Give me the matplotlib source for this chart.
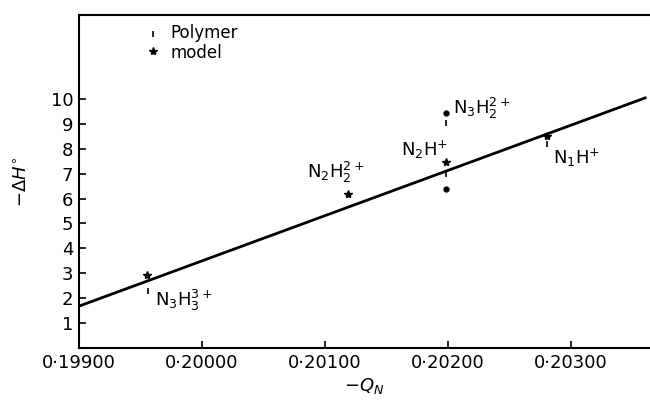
import matplotlib
matplotlib.use("Agg")
import matplotlib.pyplot as plt

# ---- data ----
x_ticks = [0.199, 0.200, 0.201, 0.202, 0.203]
x_tick_labels = ["0·19900", "0·20000", "0·20100", "0·20200", "0·20300"]
y_ticks = [1, 2, 3, 4, 5, 6, 7, 8, 9, 10]

# fitted line end points
fit_x = [0.19900, 0.20360]
fit_y = [1.68, 10.04]

# model points (stars)
model_x = [0.19955, 0.20119, 0.20198, 0.20280]
model_y = [2.95, 6.2, 7.45, 8.52]
# model point drawn as dot (N3H2 2+) and extra dot
dot_x = [0.20198, 0.20198]
dot_y = [9.42, 6.4]
# polymer (tick marks)
poly_x = [0.19956, 0.20198, 0.20198, 0.20280]
poly_y = [2.3, 7.0, 9.04, 8.2]

labels = [r"N$_3$H$_3^{3+}$", r"N$_2$H$_2^{2+}$", r"N$_3$H$_2^{2+}$", r"N$_2$H$^{+}$", r"N$_1$H$^{+}$"]
label_x = [0.19962, 0.20085, 0.20204, 0.20162, 0.20285]
label_y = [1.9, 7.05, 9.6, 7.95, 7.65]

plt.rcParams['font.family'] = ['DejaVu Sans']
plt.rcParams['mathtext.fontset'] = 'dejavusans'

fig = plt.figure(figsize=(6.5, 4.01), dpi=100)
ax = fig.add_axes([0.1215, 0.1322, 0.8785, 0.8304])

ax.plot(fit_x, fit_y, color='black', lw=2.0)
ax.plot(model_x, model_y, linestyle='none', marker='*', color='black', markersize=6)
ax.plot(dot_x, dot_y, linestyle='none', marker='o', color='black', markersize=3.5)
ax.plot(poly_x, poly_y, linestyle='none', marker='|', color='black', markersize=5, markeredgewidth=1.2)

for t, lx, ly in zip(labels, label_x, label_y):
    ax.text(lx, ly, t, fontsize=13, va='center', ha='left')

# legend
ax.plot([0.1305], [0.943], transform=ax.transAxes, marker='|', color='black',
        markersize=5, markeredgewidth=1.2, linestyle='none', clip_on=False)
ax.plot([0.1305], [0.893], transform=ax.transAxes, marker='*', color='black',
        markersize=6, linestyle='none', clip_on=False)
ax.text(0.16, 0.945, "Polymer", transform=ax.transAxes, fontsize=12, va='center')
ax.text(0.16, 0.885, "model", transform=ax.transAxes, fontsize=12, va='center')

ax.set_xlim(0.199, 0.20364)
ax.set_ylim(0, 13.37)
ax.set_xticks(x_ticks)
ax.set_xticklabels(x_tick_labels)
ax.set_yticks(y_ticks)
ax.tick_params(direction='in', length=5, width=1.2, labelsize=13, pad=4)
ax.spines['right'].set_visible(False)
for s in ['left', 'top', 'bottom']:
    ax.spines[s].set_linewidth(1.5)

ax.set_xlabel(r"$-Q_N$", fontsize=13, labelpad=3)
ax.set_ylabel(r"$-\Delta H^{\circ}$", fontsize=13, labelpad=14)

fig.savefig("out.png", dpi=100)
